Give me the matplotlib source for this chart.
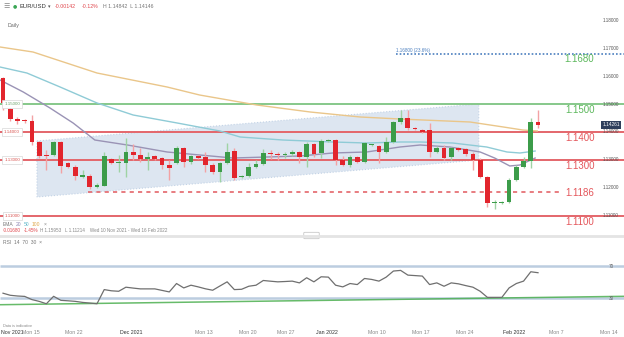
import numpy as np
import matplotlib.pyplot as plt
from matplotlib.patches import Polygon, FancyBboxPatch
from matplotlib.lines import Line2D

plt.rcParams['font.family'] = ['Liberation Sans', 'DejaVu Sans']

# daily candles, one per session (Sunday sessions included)
opens = [1.1593, 1.1482, 1.1446, 1.1443, 1.1439, 1.1364, 1.1318, 1.1318, 1.1364, 1.1289,
         1.1275, 1.1239, 1.1243, 1.1204, 1.1207, 1.1304, 1.1289, 1.1289, 1.1329, 1.1318,
         1.1304, 1.1314, 1.1307, 1.1282, 1.1289, 1.1343, 1.1293, 1.1314, 1.1311, 1.1282,
         1.1257, 1.1289, 1.1332, 1.1239, 1.1243, 1.1275, 1.1286, 1.1325, 1.1321, 1.1318,
         1.1321, 1.1329, 1.1311, 1.1357, 1.1325, 1.1368, 1.1371, 1.1300, 1.1282, 1.1311,
         1.1293, 1.1354, 1.1350, 1.1329, 1.1364, 1.1436, 1.1450, 1.1414, 1.1407, 1.1407,
         1.1329, 1.1343, 1.1311, 1.1343, 1.1339, 1.1321, 1.1300, 1.1239, 1.1146, 1.1146,
         1.1150, 1.1229, 1.1275, 1.1296, 1.1436]
highs = [1.1596, 1.1489, 1.1454, 1.1446, 1.1461, 1.1368, 1.1336, 1.1368, 1.1368, 1.1293,
         1.1282, 1.1264, 1.1250, 1.1218, 1.1329, 1.1307, 1.1318, 1.1379, 1.1357, 1.1343,
         1.1329, 1.1318, 1.1311, 1.1300, 1.1350, 1.1346, 1.1318, 1.1318, 1.1329, 1.1289,
         1.1293, 1.1361, 1.1343, 1.1246, 1.1289, 1.1300, 1.1339, 1.1336, 1.1329, 1.1329,
         1.1336, 1.1332, 1.1364, 1.1361, 1.1375, 1.1375, 1.1375, 1.1314, 1.1318, 1.1314,
         1.1364, 1.1357, 1.1354, 1.1382, 1.1439, 1.1479, 1.1479, 1.1418, 1.1411, 1.1432,
         1.1350, 1.1354, 1.1346, 1.1346, 1.1343, 1.1329, 1.1307, 1.1243, 1.1157, 1.1154,
         1.1236, 1.1282, 1.1311, 1.1450, 1.1479]
lows = [1.1479, 1.1439, 1.1429, 1.1432, 1.1354, 1.1307, 1.1264, 1.1314, 1.1254, 1.1271,
        1.1229, 1.1236, 1.1196, 1.1200, 1.1207, 1.1286, 1.1257, 1.1239, 1.1300, 1.1293,
        1.1264, 1.1300, 1.1268, 1.1229, 1.1286, 1.1275, 1.1286, 1.1304, 1.1257, 1.1250,
        1.1221, 1.1286, 1.1229, 1.1236, 1.1239, 1.1271, 1.1282, 1.1304, 1.1300, 1.1307,
        1.1314, 1.1289, 1.1275, 1.1311, 1.1307, 1.1364, 1.1282, 1.1279, 1.1275, 1.1289,
        1.1289, 1.1350, 1.1289, 1.1325, 1.1361, 1.1429, 1.1407, 1.1407, 1.1396, 1.1311,
        1.1325, 1.1300, 1.1300, 1.1332, 1.1314, 1.1264, 1.1236, 1.1132, 1.1125, 1.1143,
        1.1146, 1.1225, 1.1271, 1.1271, 1.1414]
closes = [1.1504, 1.1446, 1.1439, 1.1439, 1.1364, 1.1314, 1.1314, 1.1364, 1.1279, 1.1275,
          1.1243, 1.1246, 1.1204, 1.1211, 1.1314, 1.1289, 1.1293, 1.1329, 1.1318, 1.1304,
          1.1311, 1.1304, 1.1282, 1.1271, 1.1343, 1.1293, 1.1314, 1.1307, 1.1282, 1.1257,
          1.1289, 1.1329, 1.1236, 1.1243, 1.1275, 1.1286, 1.1325, 1.1321, 1.1318, 1.1321,
          1.1329, 1.1311, 1.1357, 1.1321, 1.1368, 1.1371, 1.1300, 1.1282, 1.1311, 1.1293,
          1.1361, 1.1357, 1.1329, 1.1364, 1.1436, 1.1450, 1.1414, 1.1411, 1.1400, 1.1329,
          1.1343, 1.1307, 1.1343, 1.1336, 1.1321, 1.1300, 1.1239, 1.1146, 1.1150, 1.1150,
          1.1229, 1.1275, 1.1296, 1.1436, 1.1425]

# moving averages, read at session positions
ema20_x = [-0.41, 2.8, 6.5, 9.7, 12.7, 17.2, 22.7, 27.2, 31.8, 36.5, 41.1, 45.6, 50.3,
           54.9, 57.7, 61.8, 66.0, 68.0, 70.1, 71.5, 73.6]
ema20_y = [1.15857, 1.15429, 1.14857, 1.14321, 1.13714, 1.13536, 1.13286, 1.13179, 1.13071,
           1.13107, 1.13143, 1.13250, 1.13286, 1.13464, 1.13536, 1.13464, 1.13286, 1.13071,
           1.12786, 1.12821, 1.13071]
ema50_x = [-0.41, 3.3, 7.9, 13.0, 18.0, 24.1, 30.0, 32.8, 38.7, 45.6, 50.3, 54.9, 57.7,
           62.2, 66.9, 69.7, 71.5, 73.6]
ema50_y = [1.16321, 1.16107, 1.15607, 1.15036, 1.14607, 1.14321, 1.14036, 1.13821, 1.13714,
           1.13643, 1.13607, 1.13643, 1.13643, 1.13607, 1.13464, 1.13286, 1.13250, 1.13321]
ema100_x = [-0.41, 4.15, 13.0, 22.7, 27.2, 35.1, 42.5, 49.4, 54.9, 64.6, 69.2, 71.9, 73.9]
ema100_y = [1.17036, 1.16857, 1.16107, 1.15607, 1.15321, 1.14964, 1.14714, 1.14536,
            1.14464, 1.14357, 1.14179, 1.14071, 1.14036]

# RSI(14) per session
rsi = [36.0, 33.4, 32.5, 32.0, 28.0, 25.8, 22.8, 32.1, 27.1, 26.5,
       25.8, 24.5, 23.7, 22.8, 40.5, 39.0, 38.4, 43.5, 42.4, 41.4,
       41.4, 41.4, 39.5, 37.6, 48.1, 42.6, 46.0, 43.9, 41.5, 39.7,
       45.0, 50.2, 40.5, 40.9, 44.7, 46.0, 51.9, 51.0, 50.2, 50.6,
       51.1, 48.9, 55.3, 50.2, 56.5, 56.1, 46.0, 43.9, 48.1, 46.8,
       54.4, 53.2, 51.1, 56.1, 63.7, 64.5, 58.6, 58.0, 57.4, 46.8,
       48.9, 44.7, 48.9, 47.7, 45.5, 43.5, 38.4, 30.8, 30.8, 30.8,
       42.6, 48.1, 51.1, 62.8, 61.6]
rsi_trend_x = [-0.41, 85.9]
rsi_trend_y = [21.6, 32.1]

# drawn levels
green_levels = [1.1500]
red_levels = [1.1400, 1.1300, 1.1100]
dashed_level = 1.1186
fib_level = 1.1680
wedge_x = [4.7, 65.8, 65.8, 4.7]
wedge_y = [1.13679, 1.15000, 1.13000, 1.11679]
axis_prices = [1.18, 1.17, 1.16, 1.15, 1.14, 1.13, 1.12, 1.11]
last_price = 1.14261

tick_pos = [-0.28, 3.9, 9.8, 17.7, 27.8, 33.9, 39.1, 44.8, 51.7, 57.8, 63.9, 70.7, 76.5, 83.8]
tick_labels = ['Nov 2021', 'Mon 15', 'Mon 22', 'Dec 2021', 'Mon 13', 'Mon 20', 'Mon 27',
               'Jan 2022', 'Mon 10', 'Mon 17', 'Mon 24', 'Feb 2022', 'Mon 7', 'Mon 14']

UP = '#3c9c4a'
DOWN = '#e2252d'
UP_WICK = '#9fd3a4'
DOWN_WICK = '#f3a2a4'
RED_LINE = '#e4666b'
GREEN_LINE = '#86c88a'

W, H = 624, 337
fig = plt.figure(figsize=(W / 100, H / 100), dpi=100)
fig.patch.set_facecolor('white')

XL = (-3 / 7.23, 621 / 7.23)

ax = fig.add_axes([0, 101 / H, 1, 236 / H])
ax.set_xlim(*XL)
ax.set_ylim(1.102857, 1.187143)
ax.axis('off')

# triangle/wedge shading
ax.add_patch(Polygon(list(zip(wedge_x, wedge_y)), closed=True, facecolor='#dde6f1',
                     edgecolor='#c3d3e6', linestyle=':', linewidth=0.8, zorder=1))

# horizontal levels
ax.hlines(green_levels, XL[0], XL[1], color=GREEN_LINE, lw=1.4, zorder=2)
ax.hlines(red_levels, XL[0], XL[1], color=RED_LINE, lw=1.4, zorder=2)
ax.hlines([dashed_level], 11.8, 77.3, color=RED_LINE, lw=1.2, linestyles=(0, (2.5, 2.5)), zorder=2)
ax.hlines([fib_level], 54.4, XL[1], color='#4b7fbf', lw=1.2, linestyles=(0, (1, 1.2)), zorder=2)

# EMAs
ax.plot(ema100_x, ema100_y, color='#eac68a', lw=1.0, zorder=3)
ax.plot(ema50_x, ema50_y, color='#8fcbd6', lw=1.0, zorder=3)
ax.plot(ema20_x, ema20_y, color='#9a93b5', lw=1.0, zorder=3)

# candles
idx = np.arange(len(opens))
o = np.array(opens)
c = np.array(closes)
up = c >= o
wick_cols = np.where(up, UP_WICK, DOWN_WICK)
body_cols = np.where(up, UP, DOWN)
ax.vlines(idx, lows, highs, colors=wick_cols, lw=1.0, zorder=4)
body_bottom = np.minimum(o, c)
body_h = np.maximum(np.abs(c - o), 0.00035)
ax.bar(idx, body_h, bottom=body_bottom, width=0.66, color=body_cols, linewidth=0, zorder=5)

# level labels on the right
for lv in green_levels:
    ax.text(81.8, lv - 0.0021, f'{lv:.4f}', color='#5cb85c', fontsize=7, ha='right', va='center', zorder=6)
for lv in red_levels:
    ax.text(81.8, lv - 0.0021, f'{lv:.4f}', color='#e4565b', fontsize=7, ha='right', va='center', zorder=6)
ax.text(81.8, dashed_level - 0.0004, f'{dashed_level:.4f}', color='#e4565b', fontsize=7,
        ha='right', va='center', zorder=6)
ax.text(81.8, fib_level - 0.0019, f'{fib_level:.4f}', color='#5cb85c', fontsize=7,
        ha='right', va='center', zorder=6)
ax.text(54.4, fib_level + 0.0012, f'{fib_level:.5f} (23.6%)', color='#4b7fbf', fontsize=3.3,
        ha='left', va='center', zorder=6)

# price scale
for p in axis_prices:
    ax.text(84.1, p, f'{p:.5f}', color='#555555', fontsize=3.3, ha='center', va='center', zorder=6)
ax.text(84.1, last_price, f'{last_price:.5f}', color='white', fontsize=3.4, ha='center', va='center',
        zorder=7, bbox=dict(boxstyle='square,pad=0.35', facecolor='#2f3f5c', edgecolor='none'))

# left tags for the round levels
for lv, col in [(1.15, '#6aa36a'), (1.14, '#d9534f'), (1.13, '#d9534f'), (1.11, '#d9534f')]:
    ax.text(1.25, lv, f'{lv:.5f}', color=col, fontsize=3.2, ha='center', va='center', zorder=6,
            bbox=dict(boxstyle='square,pad=0.4', facecolor='white', edgecolor='#d8d8d8', lw=0.5))


# RSI pane
rax = fig.add_axes([0, 15 / H, 1, 86 / H])
rax.set_xlim(*XL)
rax.set_ylim(0, 107.5)
for s in rax.spines.values():
    s.set_visible(False)
rax.set_yticks([])
rax.hlines([70, 30], XL[0], XL[1], color='#bccde0', lw=1.8, zorder=1)
rax.plot(rsi_trend_x, rsi_trend_y, color='#4caf50', lw=1.1, alpha=0.85, zorder=2)
rax.plot(idx, rsi, color='#6f6f6f', lw=0.9, zorder=3)
rax.text(84.1, 70, '70', color='#666666', fontsize=3.3, ha='center', va='center')
rax.text(84.1, 30, '30', color='#666666', fontsize=3.3, ha='center', va='center')

rax.set_xticks(tick_pos)
rax.set_xticklabels(tick_labels)
rax.tick_params(axis='x', length=0, pad=5.5, labelsize=3.8)
for k, lab in enumerate(rax.get_xticklabels()):
    if lab.get_text()[-4:].isdigit():
        lab.set_color('#333333')
    else:
        lab.set_color('#888888')
    if k == 0:
        lab.set_horizontalalignment('left')


def px(x, y):
    return x / W, 1 - y / H


# header
fig.text(*px(3, 6), '\u2630', fontsize=5, color='#888888', va='center', ha='left', family='DejaVu Sans')
fig.text(*px(13, 6), '\u25cf', fontsize=3.5, color='#3aa655', va='center', ha='left', family='DejaVu Sans')
fig.text(*px(20, 6), 'EUR/USD', fontsize=4.2, color='#333333', va='center', ha='left')
fig.text(*px(47.5, 6.5), '\u25be', fontsize=3.6, color='#555555', va='center', ha='left', family='DejaVu Sans')
fig.text(*px(55, 6), '-0.00142', fontsize=3.8, color='#e0464c', va='center', ha='left')
fig.text(*px(82, 6), '-0.12%', fontsize=3.8, color='#e0464c', va='center', ha='left')
fig.text(*px(103, 6), 'H 1.14842  L 1.14146', fontsize=3.8, color='#777777', va='center', ha='left')
fig.text(*px(8, 25), 'Daily', fontsize=3.8, color='#666666', va='center', ha='left')

# EMA legend rows
fig.text(*px(3, 224), 'EMA', fontsize=3.6, color='#777777', va='center', ha='left')
fig.text(*px(16, 224), '20', fontsize=3.6, color='#8c84b0', va='center', ha='left')
fig.text(*px(24, 224), '50', fontsize=3.6, color='#5fb7c9', va='center', ha='left')
fig.text(*px(32, 224), '100', fontsize=3.6, color='#e0a84c', va='center', ha='left')
fig.text(*px(44, 224), '\u00d7', fontsize=3.6, color='#888888', va='center', ha='left')
fig.text(*px(3, 231), '-0.01680', fontsize=3.3, color='#e0464c', va='center', ha='left')
fig.text(*px(24, 231), '-1.45%', fontsize=3.3, color='#e0464c', va='center', ha='left')
fig.text(*px(40, 231), 'H 1.15953   L 1.11214    Wed 10 Nov 2021 - Wed 16 Feb 2022', fontsize=3.3,
         color='#888888', va='center', ha='left')

# pane divider
fig.add_artist(Line2D([0, 1], [1 - 235.5 / H] * 2, color='#e4e4e4', lw=2))
fig.add_artist(FancyBboxPatch((305 / W, 1 - 238 / H), 13 / W, 5 / H,
                              boxstyle='round,pad=0.002', facecolor='white', edgecolor='#c8c8c8',
                              lw=0.6))

fig.text(*px(3, 243), 'RSI  14  70  30  \u00d7', fontsize=3.6, color='#777777', va='center', ha='left')
fig.text(*px(3, 326), 'Data is indicative', fontsize=2.8, color='#888888', va='center', ha='left')

fig.savefig('out.png', dpi=100)
